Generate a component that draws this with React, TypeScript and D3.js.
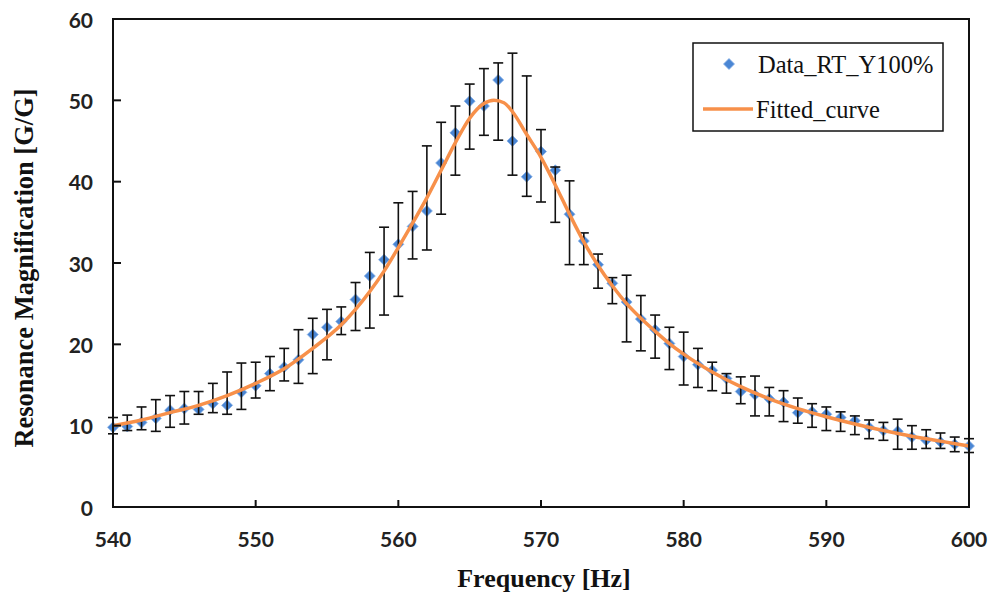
import React from "react";
import * as d3 from "d3";

// Measured resonance magnification with min/max spread at each frequency step
const freqs = d3.range(540, 601);
const magnification = [
  9.8, 9.9, 10.4, 10.9, 11.9, 12.1, 12.0, 12.7, 12.5, 14.1,
  14.9, 16.4, 17.2, 18.1, 21.2, 22.1, 22.8, 25.5, 28.4, 30.4,
  32.3, 34.5, 36.4, 42.3, 46.0, 49.9, 49.3, 52.5, 45.0, 40.6,
  43.7, 41.4, 36.0, 32.7, 29.8, 27.5, 25.2, 23.1, 21.8, 20.1,
  18.5, 17.5, 16.8, 15.8, 14.2, 13.8, 13.3, 12.9, 11.6, 11.7,
  11.4, 11.0, 10.6, 9.8, 9.4, 9.3, 8.6, 8.2, 8.0, 7.7, 7.5,
];
const upper = [
  11.0, 11.3, 12.3, 13.2, 13.7, 14.2, 14.2, 15.2, 16.6, 17.7,
  17.8, 18.5, 19.5, 21.8, 23.2, 24.3, 24.6, 27.6, 31.3, 34.4,
  37.4, 38.8, 44.4, 47.3, 49.3, 52.0, 53.9, 54.6, 55.8, 53.0,
  46.4, 41.8, 40.1, 33.7, 31.1, 28.2, 28.5, 26.0, 23.6, 22.1,
  21.5, 19.5, 17.8, 16.4, 16.0, 16.1, 14.7, 14.3, 13.4, 12.7,
  12.3, 11.7, 11.2, 10.7, 10.4, 10.8, 10.0, 9.5, 9.1, 8.6, 8.4,
];
const lower = [
  9.0, 9.4, 9.5, 9.3, 9.8, 10.2, 11.4, 11.6, 11.4, 12.0,
  13.4, 14.3, 15.5, 15.2, 16.4, 18.1, 21.2, 21.7, 22.0, 23.6,
  25.9, 30.5, 31.6, 36.0, 40.8, 44.0, 45.7, 45.1, 40.8, 38.2,
  37.5, 35.0, 29.8, 29.8, 26.9, 25.0, 20.3, 19.2, 18.3, 16.9,
  15.0, 14.7, 14.3, 14.0, 12.7, 11.2, 11.2, 10.5, 10.3, 9.8,
  9.4, 9.3, 8.9, 8.4, 8.2, 7.1, 7.1, 7.2, 7.2, 6.8, 6.7,
];

// Fitted resonance curve, sampled
const fitFreqs = [
  540, 542, 544, 546, 548, 550, 552, 554, 556, 558, 559, 560, 561, 562,
  563, 564, 565, 566, 566.7, 567.4, 568, 569, 570, 571, 572, 573, 574,
  575, 576, 577, 578, 579, 580, 582, 584, 586, 588, 590, 592, 594, 596,
  598, 600,
];
const fitValues = [
  10.0, 10.7, 11.6, 12.5, 13.7, 15.2, 17.0, 19.5, 22.4, 26.5, 29.0, 31.9,
  34.9, 38.0, 41.4, 44.8, 47.8, 49.6, 50.0, 49.7, 48.6, 45.8, 43.0, 39.6,
  36.0, 32.6, 29.7, 27.2, 25.0, 23.2, 21.6, 20.1, 18.8, 16.6, 14.8, 13.3,
  12.1, 11.1, 10.2, 9.4, 8.7, 8.1, 7.5,
];

const xTicks = [540, 550, 560, 570, 580, 590, 600];
const yTicks = [0, 10, 20, 30, 40, 50, 60];

const seriesLabel = "Data_RT_Y100%";
const fitLabel = "Fitted_curve";
const xTitle = "Frequency [Hz]";
const yTitle = "Resonance Magnification [G/G]";

const W = 990;
const H = 596;
const M = { left: 113, right: 21, top: 19, bottom: 89 };

const BLUE = "#4a86d4";
const ORANGE = "#f7904a";
const tickFont = "Lato, 'Open Sans', sans-serif";
const serif = "'Liberation Serif', 'Times New Roman', serif";

export default function App() {
  const x = d3.scaleLinear().domain([540, 600]).range([M.left, W - M.right]);
  const y = d3.scaleLinear().domain([0, 60]).range([H - M.bottom, M.top]);

  const fitLine = d3
    .line<number>()
    .x((_, i) => x(fitFreqs[i]))
    .y((d) => y(d))
    .curve(d3.curveMonotoneX);

  const diamond = (cx: number, cy: number, r: number) =>
    `M${cx},${cy - r}L${cx + r},${cy}L${cx},${cy + r}L${cx - r},${cy}Z`;

  const x0 = x(540);
  const x1 = x(600);
  const yb = y(0);
  const yt = y(60);

  return (
    <svg
      width={W}
      height={H}
      style={{ position: "absolute", left: 0, top: 0, background: "#fff" }}
    >
      {/* markers */}
      <g>
        {magnification.map((v, i) => (
          <path
            key={i}
            d={diamond(x(freqs[i]), y(v), 5.5)}
            fill={BLUE}
            stroke="#86b0e6"
            strokeWidth={0.8}
          />
        ))}
      </g>

      {/* error bars */}
      <g stroke="#111" strokeWidth={1.6} fill="none">
        {freqs.map((f, i) => {
          const cx = x(f);
          const yh = y(upper[i]);
          const yl = y(lower[i]);
          return (
            <g key={i}>
              <line x1={cx} x2={cx} y1={yh} y2={yl} />
              <line x1={cx - 5} x2={cx + 5} y1={yh} y2={yh} />
              <line x1={cx - 5} x2={cx + 5} y1={yl} y2={yl} />
            </g>
          );
        })}
      </g>

      {/* fitted curve */}
      <path
        d={fitLine(fitValues) ?? ""}
        fill="none"
        stroke={ORANGE}
        strokeWidth={3.5}
        strokeLinejoin="round"
      />

      {/* frame */}
      <rect
        x={x0}
        y={yt}
        width={x1 - x0}
        height={yb - yt}
        fill="none"
        stroke="#111"
        strokeWidth={2}
      />

      {/* y axis ticks and labels */}
      <g>
        {yTicks.map((t) => (
          <g key={t}>
            {t > 0 && t < 60 && (
              <line x1={x0} x2={x0 + 8} y1={y(t)} y2={y(t)} stroke="#111" strokeWidth={2} />
            )}
            <text
              x={93}
              y={y(t)}
              textAnchor="end"
              dominantBaseline="central"
              fontFamily={tickFont}
              fontWeight={700}
              fontSize={21}
              fill="#222"
            >
              {t}
            </text>
          </g>
        ))}
      </g>

      {/* x axis ticks and labels */}
      <g>
        {xTicks.map((t) => (
          <g key={t}>
            {t > 540 && t < 600 && (
              <line x1={x(t)} x2={x(t)} y1={yb} y2={yb - 7} stroke="#111" strokeWidth={2} />
            )}
            <text
              x={x(t)}
              y={547}
              textAnchor="middle"
              fontFamily={tickFont}
              fontWeight={700}
              fontSize={21}
              fill="#222"
            >
              {t}
            </text>
          </g>
        ))}
      </g>

      {/* axis titles */}
      <text
        x={544}
        y={587}
        textAnchor="middle"
        fontFamily={serif}
        fontWeight={700}
        fontSize={26}
        fill="#111"
      >
        {xTitle}
      </text>
      <text
        transform={`translate(33,${268}) rotate(-90)`}
        textAnchor="middle"
        fontFamily={serif}
        fontWeight={700}
        fontSize={26.5}
        fill="#111"
      >
        {yTitle}
      </text>

      {/* legend */}
      <g>
        <rect x={693} y={43} width={250} height={88} fill="#fff" stroke="#111" strokeWidth={1.5} />
        <path d={diamond(729, 64, 5.5)} fill={BLUE} stroke="#86b0e6" strokeWidth={0.8} />
        <text x={758} y={73} fontFamily={serif} fontSize={24.5} fill="#111">
          {seriesLabel}
        </text>
        <line x1={703} x2={753} y1={109} y2={109} stroke={ORANGE} strokeWidth={3.5} />
        <text x={756} y={118} fontFamily={serif} fontSize={24.5} fill="#111">
          {fitLabel}
        </text>
      </g>
    </svg>
  );
}
